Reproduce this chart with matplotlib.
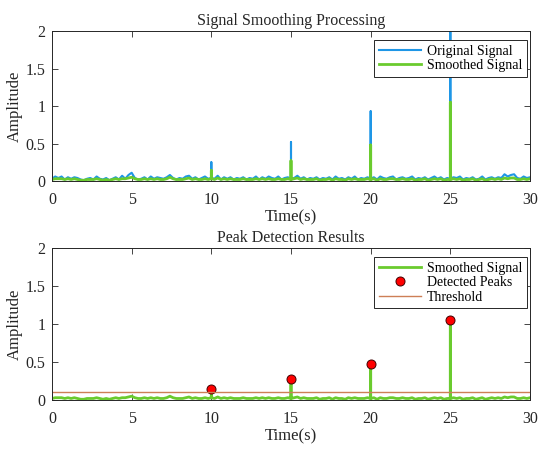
import numpy as np
import matplotlib
matplotlib.use("Agg")
import matplotlib.pyplot as plt

plt.rcParams['font.family'] = ['Liberation Serif', 'DejaVu Serif']

# time axis, 0.2 s steps
t = np.linspace(0, 30, 151)

# background noise (hundredths of amplitude)
orig_noise = [3, 6, 4, 6, 2,  5, 3, 5, 4, 2,  1, 3, 4, 2, 6,  3, 2, 4, 1, 3,
              5, 2, 7, 3, 8,  11, 4, 2, 3, 5,  2, 6, 3, 5, 4,  3, 5, 8, 4, 2,
              4, 3, 6, 7, 3,  5, 2, 4, 6, 3,  4, 3, 7, 2, 5,  3, 5, 2, 4, 3,
              5, 2, 4, 3, 6,  2, 5, 3, 6, 4,  3, 6, 2, 4, 5,  3, 4, 7, 3, 5,
              2, 4, 3, 5, 2,  4, 3, 5, 2, 6,  3, 4, 2, 5, 3,  6, 2, 4, 3, 5,
              3, 5, 2, 6, 4,  3, 5, 6, 2, 4,  5, 3, 4, 6, 2,  4, 3, 5, 2, 4,
              6, 3, 5, 2, 4,  3, 5, 4, 6, 2,  4, 3, 5, 2, 3,  6, 2, 4, 5, 3,
              5, 4, 9, 6, 8,  9, 4, 3, 6, 4,  5]
smooth_noise = [2, 3, 3, 3, 2,  3, 2, 3, 2, 1,  1, 2, 2, 2, 3,  2, 1, 2, 1, 2,
                3, 2, 3, 3, 4,  5, 3, 2, 2, 3,  2, 3, 2, 3, 2,  2, 3, 5, 3, 2,
                2, 2, 3, 4, 2,  3, 2, 2, 3, 2,  3, 2, 4, 2, 3,  2, 3, 2, 2, 2,
                3, 2, 2, 2, 3,  2, 3, 2, 3, 2,  2, 3, 2, 2, 3,  2, 3, 4, 2, 3,
                2, 2, 2, 3, 1,  2, 2, 3, 1, 3,  2, 2, 1, 3, 2,  3, 2, 2, 2, 3,
                2, 3, 1, 3, 2,  2, 3, 3, 2, 2,  3, 2, 2, 3, 1,  2, 2, 3, 1, 2,
                3, 2, 3, 1, 2,  2, 3, 2, 3, 1,  2, 2, 3, 1, 2,  3, 1, 2, 3, 2,
                3, 2, 4, 3, 4,  4, 2, 2, 3, 2,  3]

# spikes
spike_times = [10, 15, 20, 25]
orig_peaks = [0.25, 0.52, 0.93, 2.0]
smooth_peaks = [0.14, 0.27, 0.48, 1.05]
threshold = 0.11

yticks = [0, 0.5, 1, 1.5, 2]
ytick_labels = ['0', '0.5', '1', '1.5', '2']
xticks = [0, 5, 10, 15, 20, 25, 30]


def with_spikes(tt, noise, peaks):
    xs, ys = [], []
    for ti, v in zip(tt, noise):
        xs.append(ti)
        ys.append(v / 100)
        for ts, p in zip(spike_times, peaks):
            if abs(ti - ts) < 1e-9:
                xs += [ti, ti]
                ys += [p, v / 100]
    return xs, ys


t_orig, y_orig = with_spikes(t, orig_noise, orig_peaks)
t_smooth, y_smooth = with_spikes(t, smooth_noise, smooth_peaks)

blue = '#1E96E6'
green = '#6ACB2E'
edge = '#262626'

fig = plt.figure(figsize=(5.5, 4.51), dpi=100)
ax1 = fig.add_axes([52 / 550, 1 - 181 / 451, 478 / 550, 150 / 451])
ax2 = fig.add_axes([52 / 550, 1 - 400 / 451, 478 / 550, 152 / 451])


def style(ax, title):
    ax.set_xlim(0, 30)
    ax.set_ylim(0, 2)
    ax.set_xticks(xticks)
    ax.set_xticklabels([str(x) for x in xticks])
    ax.set_yticks(yticks)
    ax.set_yticklabels(ytick_labels)
    ax.tick_params(direction='in', top=True, right=True, length=4,
                   width=0.6, color=edge, labelsize=11.5, labelcolor=edge)
    ax.tick_params(axis='x', pad=8)
    ax.tick_params(axis='y', pad=4.5)
    for s in ax.spines.values():
        s.set_color(edge)
        s.set_linewidth(0.7)
    ax.set_xlabel('Time(s)', fontsize=12, color=edge, labelpad=1)
    ax.set_ylabel('Amplitude', fontsize=12, color=edge, labelpad=2)
    ax.set_title(title, fontsize=11.5, color=edge, pad=4)


def legend(ax, top):
    leg = ax.legend(loc='upper right', bbox_to_anchor=(0.994, top), borderaxespad=0,
                    fontsize=10, handlelength=3.0, handletextpad=0.45, labelspacing=0.1,
                    fancybox=False, framealpha=1, edgecolor=edge, borderpad=0.35)
    leg.get_frame().set_linewidth(0.7)


ax1.plot(t_orig, y_orig, color=blue, lw=1.5, label='Original Signal')
ax1.plot(t_smooth, y_smooth, color=green, lw=2.0, label='Smoothed Signal')
style(ax1, 'Signal Smoothing Processing')
legend(ax1, 0.94)

ax2.plot(t_smooth, y_smooth, color=green, lw=2.0, label='Smoothed Signal')
ax2.plot(spike_times, smooth_peaks, 'o', color='red', markeredgecolor='#400000',
         markeredgewidth=0.7, markersize=6.5, label='Detected Peaks')
ax2.axhline(threshold, color='#CD7F56', lw=1.0, label='Threshold')
style(ax2, 'Peak Detection Results')
legend(ax2, 0.941)

fig.savefig('out.png', dpi=100)
